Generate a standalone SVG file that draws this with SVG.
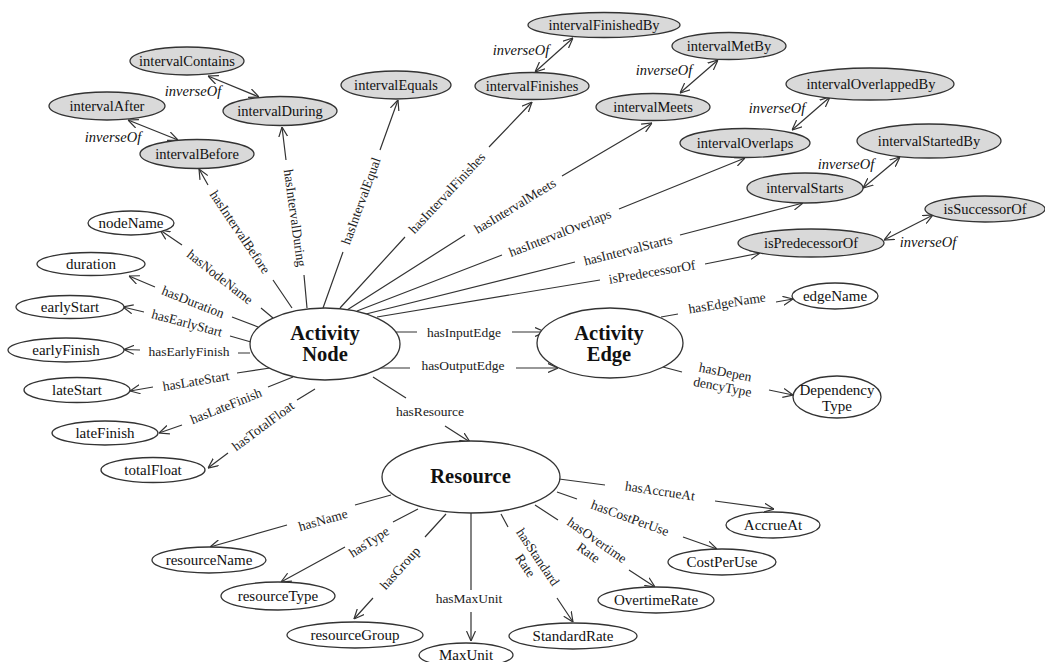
<svg xmlns="http://www.w3.org/2000/svg" width="1045" height="662" viewBox="0 0 1045 662">
  <defs>
    <marker id="arr" viewBox="0 0 10 10" refX="10" refY="5" markerWidth="10" markerHeight="10" markerUnits="userSpaceOnUse" orient="auto-start-reverse">
      <path d="M0,0.5 L10,5 L0,9.5" fill="none" stroke="#333" stroke-width="1.2"/>
    </marker>
    <style>
      .n ellipse { fill: #fff; stroke: #333; stroke-width: 1.3; }
      .g ellipse { fill: #d9d9d9; stroke: #333; stroke-width: 1.3; }
      .n text { font-family: "Liberation Serif", "Times New Roman", serif; font-size: 15px; fill: #111; text-anchor: middle; }
      .g text { font-family: "Liberation Serif", "Times New Roman", serif; font-size: 14.5px; fill: #111; text-anchor: middle; }
      .big text { font-family: "Liberation Serif", "Times New Roman", serif; font-size: 20.5px; font-weight: bold; fill: #111; text-anchor: middle; }
      .e path { fill: none; stroke: #333; stroke-width: 1.2; marker-end: url(#arr); }
      .e path.bi { marker-start: url(#arr); }
      .e text { font-family: "Liberation Serif", "Times New Roman", serif; font-size: 13.5px; fill: #222; text-anchor: middle; dominant-baseline: central; }
      .e text.inv { font-size: 14.5px; font-style: italic; fill: #111; }
    </style>
  </defs>

  <!-- connectors -->
  <g id="connectors" class="e">
    <!-- interval relations -->
    <path d="M292,308 L273,280 M208,185 L199,169"/>
    <text transform="translate(240,232) rotate(56)">hasIntervalBefore</text>
    <path d="M307,308 L304,275 M286,160 L282,127"/>
    <text transform="translate(295,218) rotate(82)">hasIntervalDuring</text>
    <path d="M323,308 L343,252 M380,150 L398,100"/>
    <text transform="translate(361,201) rotate(-70)">hasIntervalEqual</text>
    <path d="M340,308 L405,237 M489,147 L532,102"/>
    <text transform="translate(447,193) rotate(-47)">hasIntervalFinishes</text>
    <path d="M347,310 L465,235 M562,176 L652,123"/>
    <text transform="translate(515,206) rotate(-31.5)">hasIntervalMeets</text>
    <path d="M357,311 L502,255 M619,209 L745,158"/>
    <text transform="translate(560,233) rotate(-21.5)">hasIntervalOverlaps</text>
    <path d="M366,314 L575,262 M680,235 L803,203"/>
    <text transform="translate(628,250) rotate(-14.3)">hasIntervalStarts</text>
    <path d="M377,317 L600,280 M705,264 L760,253"/>
    <text transform="translate(652,272) rotate(-9.5)">isPredecessorOf</text>

    <!-- inverse pairs -->
    <path class="bi" d="M128,120 L178,140"/>
    <text class="inv" x="113" y="137">inverseOf</text>
    <path class="bi" d="M208,76 L259,97"/>
    <text class="inv" x="193" y="91">inverseOf</text>
    <path class="bi" d="M535,72 L573,38"/>
    <text class="inv" x="521" y="50">inverseOf</text>
    <path class="bi" d="M680,93 L718,60"/>
    <text class="inv" x="664" y="70">inverseOf</text>
    <path class="bi" d="M792,130 L830,97"/>
    <text class="inv" x="777" y="108">inverseOf</text>
    <path class="bi" d="M863,188 L900,157"/>
    <text class="inv" x="846" y="164">inverseOf</text>
    <path class="bi" d="M884,240 L933,215"/>
    <text class="inv" x="928" y="242">inverseOf</text>

    <!-- activity node attributes -->
    <path d="M273,318 L261,308 M182,245 L160,230"/>
    <text transform="translate(220,277) rotate(38)">hasNodeName</text>
    <path d="M258,327 L232,317 M155,287 L129,276"/>
    <text transform="translate(193,302) rotate(21.5)">hasDuration</text>
    <path d="M251,342 L230,336 M144,312 L123,307"/>
    <text transform="translate(187,323) rotate(15)">hasEarlyStart</text>
    <path d="M250,353 L238,353 M140,350 L124,349.5"/>
    <text x="189" y="351">hasEarlyFinish</text>
    <path d="M270,368 L237,373 M153,387 L130,391"/>
    <text transform="translate(196,381) rotate(-9.5)">hasLateStart</text>
    <path d="M293,377 L268,387 M182,425 L159,433"/>
    <text transform="translate(226,406) rotate(-22)">hasLateFinish</text>
    <path d="M315,389 L297,400 M228,453 L208,468"/>
    <text transform="translate(263,426) rotate(-36.5)">hasTotalFloat</text>

    <!-- node to edge / resource -->
    <path d="M393,332 L417,332 M512,332 L545,332"/>
    <text x="464" y="332">hasInputEdge</text>
    <path d="M378,368 L410,368 M516,368 L558,368"/>
    <text x="463" y="365">hasOutputEdge</text>
    <path d="M373,377 L406,398 M445,426 L470,442"/>
    <text x="430" y="411">hasResource</text>

    <!-- activity edge attributes -->
    <path d="M661,317 L678,314 M776,302 L793,299"/>
    <text transform="translate(727,303) rotate(-9)">hasEdgeName</text>
    <path d="M663,367 L682,372 M769,390 L793,395"/>
    <text transform="translate(724,379) rotate(11)"><tspan x="0" dy="-7.5">hasDepen</tspan><tspan x="0" dy="15">dencyType</tspan></text>

    <!-- resource attributes -->
    <path d="M391,495 L355,505 M287,525 L210,547"/>
    <text transform="translate(323,520) rotate(-16)">hasName</text>
    <path d="M418,509 L393,522 M345,547 L281,582"/>
    <text transform="translate(369,542) rotate(-33)">hasType</text>
    <path d="M446,514 L425,537 M373,598 L354,619"/>
    <text transform="translate(400,568) rotate(-48)">hasGroup</text>
    <path d="M471,513 L471,590 M471,612 L471,641"/>
    <text x="469" y="598">hasMaxUnit</text>
    <path d="M501,514 L508,527 M557,598 L573,622"/>
    <text transform="translate(532,561) rotate(56)"><tspan x="0" dy="-7.5">hasStandard</tspan><tspan x="0" dy="15">Rate</tspan></text>
    <path d="M535,505 L558,520 M629,570 L655,587"/>
    <text transform="translate(593,546) rotate(35)"><tspan x="0" dy="-7.5">hasOvertime</tspan><tspan x="0" dy="15">Rate</tspan></text>
    <path d="M557,492 L577,499 M683,537 L717,549"/>
    <text transform="translate(630,518) rotate(20)">hasCostPerUse</text>
    <path d="M559,479 L605,485 M715,501 L774,509"/>
    <text transform="translate(660,491) rotate(8.5)">hasAccrueAt</text>
  </g>

  <!-- main classes -->
  <g id="activityNode" class="n big">
    <ellipse cx="325" cy="344" rx="75" ry="36"/>
    <text x="325" y="340">Activity</text>
    <text x="325" y="361">Node</text>
  </g>
  <g id="activityEdge" class="n big">
    <ellipse cx="610" cy="343" rx="73" ry="35"/>
    <text x="609" y="340">Activity</text>
    <text x="609" y="361">Edge</text>
  </g>
  <g id="resource" class="n big">
    <ellipse cx="471" cy="477" rx="89" ry="36"/>
    <text x="470.5" y="483">Resource</text>
  </g>

  <!-- interval properties -->
  <g id="intervalContains" class="g"><ellipse cx="187" cy="61" rx="57" ry="14"/><text x="187" y="66">intervalContains</text></g>
  <g id="intervalAfter" class="g"><ellipse cx="107" cy="106" rx="58" ry="14"/><text x="107" y="111">intervalAfter</text></g>
  <g id="intervalBefore" class="g"><ellipse cx="197" cy="154" rx="57" ry="14.5"/><text x="197" y="159">intervalBefore</text></g>
  <g id="intervalDuring" class="g"><ellipse cx="280" cy="111" rx="57" ry="14.5"/><text x="280" y="116">intervalDuring</text></g>
  <g id="intervalEquals" class="g"><ellipse cx="396" cy="85" rx="55" ry="14"/><text x="396" y="90">intervalEquals</text></g>
  <g id="intervalFinishedBy" class="g"><ellipse cx="604" cy="25" rx="76" ry="12.5"/><text x="604" y="30">intervalFinishedBy</text></g>
  <g id="intervalFinishes" class="g"><ellipse cx="532" cy="86" rx="57" ry="13.5"/><text x="532" y="91">intervalFinishes</text></g>
  <g id="intervalMetBy" class="g"><ellipse cx="729" cy="46" rx="57" ry="13.5"/><text x="729" y="51">intervalMetBy</text></g>
  <g id="intervalMeets" class="g"><ellipse cx="653" cy="107" rx="57" ry="13.5"/><text x="653" y="112">intervalMeets</text></g>
  <g id="intervalOverlappedBy" class="g"><ellipse cx="870" cy="84" rx="84" ry="16"/><text x="871" y="89">intervalOverlappedBy</text></g>
  <g id="intervalOverlaps" class="g"><ellipse cx="745" cy="143" rx="65" ry="14.5"/><text x="745" y="148">intervalOverlaps</text></g>
  <g id="intervalStartedBy" class="g"><ellipse cx="929" cy="141" rx="72" ry="17"/><text x="929" y="146">intervalStartedBy</text></g>
  <g id="intervalStarts" class="g"><ellipse cx="805" cy="188" rx="58" ry="15"/><text x="805" y="193">intervalStarts</text></g>
  <g id="isSuccessorOf" class="g"><ellipse cx="985" cy="209" rx="60" ry="13"/><text x="985" y="214">isSuccessorOf</text></g>
  <g id="isPredecessorOf" class="g"><ellipse cx="811" cy="243" rx="73" ry="14"/><text x="811" y="248">isPredecessorOf</text></g>

  <!-- activity node attributes -->
  <g id="nodeName" class="n"><ellipse cx="131" cy="223" rx="43" ry="12"/><text x="131" y="228">nodeName</text></g>
  <g id="duration" class="n"><ellipse cx="91" cy="264" rx="54" ry="11.5"/><text x="91" y="269">duration</text></g>
  <g id="earlyStart" class="n"><ellipse cx="70" cy="307" rx="54" ry="11.5"/><text x="70" y="312">earlyStart</text></g>
  <g id="earlyFinish" class="n"><ellipse cx="66" cy="350" rx="58" ry="12"/><text x="66" y="355">earlyFinish</text></g>
  <g id="lateStart" class="n"><ellipse cx="77" cy="390" rx="53" ry="12.5"/><text x="77" y="395">lateStart</text></g>
  <g id="lateFinish" class="n"><ellipse cx="105" cy="433" rx="53" ry="12"/><text x="105" y="438">lateFinish</text></g>
  <g id="totalFloat" class="n"><ellipse cx="153" cy="470" rx="52" ry="12.5"/><text x="153" y="475">totalFloat</text></g>

  <!-- activity edge attributes -->
  <g id="edgeName" class="n"><ellipse cx="835" cy="296" rx="43" ry="13"/><text x="835" y="301">edgeName</text></g>
  <g id="dependencyType" class="n"><ellipse cx="837" cy="397" rx="44" ry="21"/><text x="837" y="395">Dependency</text><text x="837" y="411">Type</text></g>

  <!-- resource attributes -->
  <g id="resourceName" class="n"><ellipse cx="209" cy="560" rx="57" ry="13"/><text x="209" y="565">resourceName</text></g>
  <g id="resourceType" class="n"><ellipse cx="278" cy="596" rx="57" ry="14"/><text x="278" y="601">resourceType</text></g>
  <g id="resourceGroup" class="n"><ellipse cx="355" cy="635" rx="68" ry="13"/><text x="355" y="640">resourceGroup</text></g>
  <g id="maxUnit" class="n"><ellipse cx="466" cy="655" rx="47" ry="12"/><text x="466" y="660">MaxUnit</text></g>
  <g id="standardRate" class="n"><ellipse cx="573" cy="636" rx="64" ry="13"/><text x="573" y="641">StandardRate</text></g>
  <g id="overtimeRate" class="n"><ellipse cx="656" cy="600" rx="58" ry="13"/><text x="656" y="605">OvertimeRate</text></g>
  <g id="costPerUse" class="n"><ellipse cx="722" cy="562" rx="54" ry="13"/><text x="722" y="567">CostPerUse</text></g>
  <g id="accrueAt" class="n"><ellipse cx="773" cy="525" rx="47" ry="13"/><text x="773" y="530">AccrueAt</text></g>
</svg>
